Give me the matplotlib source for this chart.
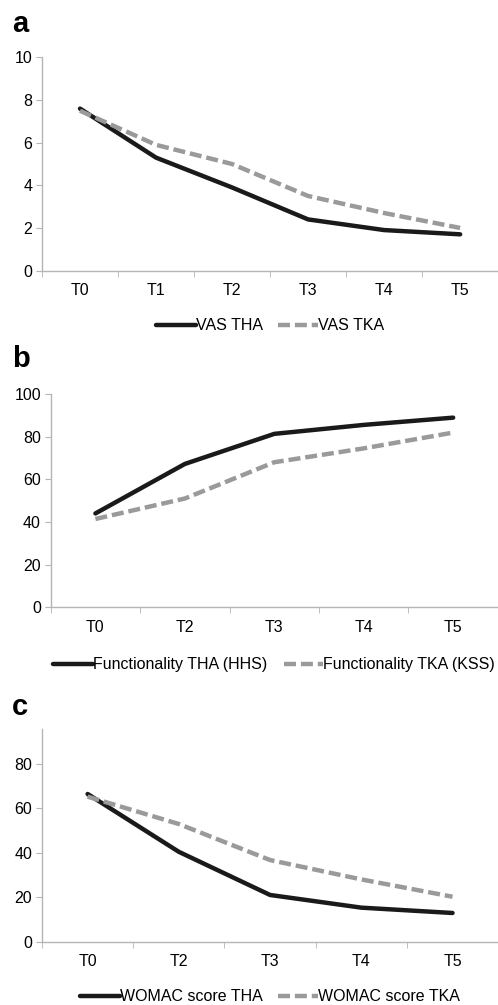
import numpy as np
import matplotlib.pyplot as plt

plt.rcParams['font.family'] = ['Liberation Sans', 'DejaVu Sans']

# panel a - VAS
vas_labels = ['T0', 'T1', 'T2', 'T3', 'T4', 'T5']
vas_tha = [7.6, 5.3, 3.9, 2.4, 1.9, 1.7]
vas_tka = [7.5, 5.9, 5.0, 3.5, 2.7, 2.0]

# panel b - functionality
fun_labels = ['T0', 'T2', 'T3', 'T4', 'T5']
fun_tha = [44, 67.2, 81.3, 85.5, 88.9]
fun_tka = [41.4, 51, 68, 74.5, 81.9]

# panel c - WOMAC
wom_labels = ['T0', 'T2', 'T3', 'T4', 'T5']
wom_tha = [66.4, 40.4, 21, 15.3, 12.9]
wom_tka = [65.2, 52.9, 36.7, 28, 20.2]

axis_col = '#b5b5b5'
gray = '#9a9a9a'

fig = plt.figure(figsize=(4.98, 10.05), dpi=100)


def panel(rect, labels, tha, tka, ylim, yticks, names, letter, letter_y, leg_y):
    ax = fig.add_axes(rect)
    x = np.arange(len(labels))
    ax.plot(x, tha, color='#1a1a1a', lw=3.2, solid_capstyle='round',
            solid_joinstyle='round', label=names[0])
    ax.plot(x, tka, color=gray, lw=3.2, dashes=(2.7, 1.1),
            dash_capstyle='butt', label=names[1])
    ax.set_xlim(-0.5, len(labels) - 0.5)
    ax.set_ylim(*ylim)
    ax.set_yticks(yticks)
    ax.set_xticks(x)
    ax.set_xticklabels(labels)
    ax.set_xticks(np.arange(len(labels) + 1) - 0.5, minor=True)
    ax.tick_params(axis='x', which='major', length=0, pad=9, labelsize=11.5)
    ax.tick_params(axis='x', which='minor', length=4, color=axis_col)
    ax.tick_params(axis='y', length=4, color=axis_col, labelsize=11.5, pad=3)
    for s in ['top', 'right']:
        ax.spines[s].set_visible(False)
    for s in ['left', 'bottom']:
        ax.spines[s].set_color(axis_col)
        ax.spines[s].set_linewidth(1.0)
    ax.legend(loc='center', bbox_to_anchor=(0.5, leg_y), ncol=2, frameon=False,
              fontsize=11.5, handlelength=2.5, handletextpad=0.0,
              columnspacing=1.0, borderaxespad=0)
    fig.text(0.024, letter_y, letter, fontsize=21,
             fontweight='bold', ha='left', va='baseline')
    return ax


panel([0.0843, 0.7308, 0.916, 0.212], vas_labels, vas_tha, vas_tka,
      (0, 10), [0, 2, 4, 6, 8, 10], ['VAS THA', 'VAS TKA'], 'a', 0.968, -0.26)
panel([0.1018, 0.3957, 0.898, 0.2123], fun_labels, fun_tha, fun_tka,
      (0, 100), [0, 20, 40, 60, 80, 100],
      ['Functionality THA (HHS)', 'Functionality TKA (KSS)'], 'b', 0.635, -0.27)
panel([0.0843, 0.0630, 0.916, 0.2116], wom_labels, wom_tha, wom_tka,
      (0, 95.6), [0, 20, 40, 60, 80],
      ['WOMAC score THA', 'WOMAC score TKA'], 'c', 0.2886, -0.26)

fig.savefig('out.png', dpi=100)
